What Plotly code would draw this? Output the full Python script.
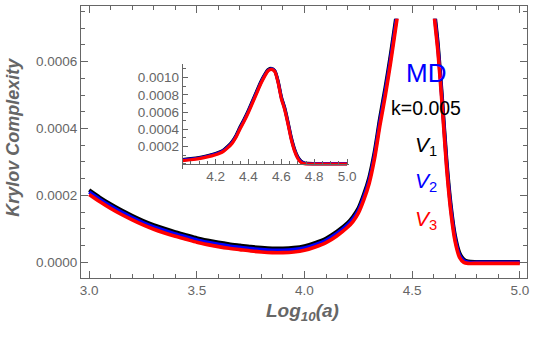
import plotly.graph_objects as go

# ---------------- data (values in units of 1e-4) ----------------
LOG_A = [3.00, 3.05, 3.10, 3.15, 3.20, 3.25, 3.30, 3.35, 3.40, 3.45,
         3.50, 3.55, 3.60, 3.65, 3.70, 3.75, 3.80, 3.85, 3.90, 3.95,
         4.00, 4.05, 4.10, 4.15, 4.20, 4.225, 4.25, 4.275, 4.30, 4.325,
         4.35, 4.375, 4.40, 4.425, 4.45, 4.475, 4.50, 4.52, 4.54, 4.56,
         4.58, 4.60, 4.62, 4.64, 4.66, 4.68, 4.70, 4.72, 4.74, 4.76,
         4.80, 4.90, 5.00]
V1 = [2.16, 1.94, 1.74, 1.56, 1.40, 1.25, 1.12, 1.01, 0.91, 0.82,
      0.73, 0.66, 0.60, 0.55, 0.51, 0.47, 0.44, 0.42, 0.42, 0.44,
      0.49, 0.59, 0.72, 0.92, 1.18, 1.37, 1.62, 2.03, 2.54, 3.30,
      4.31, 5.22, 6.22, 7.32, 8.42, 9.51, 10.40, 10.92, 11.05, 10.80,
      9.60, 7.76, 6.52, 4.87, 3.07, 1.71, 0.79, 0.29, 0.09, 0.03,
      0.02, 0.02, 0.02]
V2 = [2.10, 1.88, 1.68, 1.50, 1.34, 1.19, 1.06, 0.95, 0.85, 0.76,
      0.67, 0.60, 0.54, 0.49, 0.45, 0.41, 0.38, 0.36, 0.36, 0.38,
      0.43, 0.53, 0.66, 0.86, 1.12, 1.30, 1.55, 1.95, 2.45, 3.20,
      4.20, 5.10, 6.10, 7.20, 8.30, 9.40, 10.30, 10.85, 11.00, 10.75,
      9.50, 7.65, 6.40, 4.75, 2.95, 1.60, 0.70, 0.22, 0.05, 0.00,
      0.00, 0.00, 0.00]
V3 = [2.03, 1.81, 1.61, 1.43, 1.27, 1.12, 0.99, 0.88, 0.78, 0.69,
      0.60, 0.53, 0.47, 0.42, 0.38, 0.34, 0.31, 0.29, 0.29, 0.31,
      0.36, 0.46, 0.59, 0.79, 1.05, 1.22, 1.47, 1.86, 2.35, 3.09,
      4.08, 4.97, 5.97, 7.07, 8.17, 9.28, 10.20, 10.78, 10.95, 10.70,
      9.40, 7.54, 6.28, 4.63, 2.83, 1.49, 0.61, 0.15, 0.00, -0.03,
      -0.03, -0.03, -0.03]
SCALE = 1e-4
SERIES = [("V1", V1, "#000000"), ("V2", V2, "#0000ff"), ("V3", V3, "#ff0000")]

X_TICKS = [3.0, 3.5, 4.0, 4.5, 5.0]
Y_TICKS = [0.0, 0.0002, 0.0004, 0.0006]
INSET_X_TICKS = [4.2, 4.4, 4.6, 4.8, 5.0]
INSET_Y_TICKS = [0.0002, 0.0004, 0.0006, 0.0008, 0.0010]

# ---------------- layout geometry ----------------
W, H = 540, 363
L, R, T, B = 81, 6, 5, 85
PW, PH = W - L - R, H - T - B
XR = [2.962, 5.0334]
YR = [-0.0000467, 0.000766]
YCLIP = 0.000728  # plot range of main curves (clipped)
clip_frac = (YCLIP - YR[0]) / (YR[1] - YR[0])

def px_x(p):
    return (p - L) / PW

def px_y(p):
    return (H - B - p) / PH

GREY = "#666666"
FONT = "Liberation Sans, Arial, sans-serif"

fig = go.Figure()

ys = {}
for name, vals, col in SERIES:
    yv = [v * SCALE for v in vals]
    ys[name] = yv
    fig.add_trace(go.Scatter(x=LOG_A, y=yv, mode="lines", name=name,
                             line=dict(color=col, width=3.6, shape="spline", smoothing=0.7),
                             xaxis="x", yaxis="y", showlegend=False, hoverinfo="skip"))
# inset
for name, vals, col in SERIES:
    fig.add_trace(go.Scatter(x=LOG_A, y=ys[name], mode="lines",
                             line=dict(color=col, width=3.2, shape="spline", smoothing=0.7),
                             xaxis="x3", yaxis="y3", showlegend=False, hoverinfo="skip"))
# dummy for frame subplot
fig.add_trace(go.Scatter(x=[None], y=[None], xaxis="x2", yaxis="y2", showlegend=False))

tickfont = dict(family=FONT, size=13.5, color=GREY)

# inset geometry
IX0, IX1 = 184.3, 353.0
IY0, IY1 = 169.0, 63.0
IXR = [4.0, 4.0 + (IX1 - IX0) / 167.0]
IYR = [-(IY0 - 163.3) / 86.5 * 0.001, (163.3 - IY1) / 86.5 * 0.001]
iy_dom = [px_y(IY0), px_y(IY1)]
ix_dom = [px_x(IX0), px_x(IX1)]
zero_pos = iy_dom[0] + (0 - IYR[0]) / (IYR[1] - IYR[0]) * (iy_dom[1] - iy_dom[0])

fig.update_layout(
    width=W, height=H, margin=dict(l=L, r=R, t=T, b=B),
    paper_bgcolor="white", plot_bgcolor="rgba(0,0,0,0)",
    xaxis=dict(domain=[0, 1], range=XR, visible=False, anchor="y"),
    yaxis=dict(domain=[0, clip_frac], range=[YR[0], YCLIP], visible=False, anchor="x"),
    xaxis2=dict(domain=[0, 1], range=XR, anchor="y2", showline=True, mirror="allticks",
                linecolor=GREY, linewidth=1.2, ticks="inside", ticklen=7, tickwidth=1,
                tickcolor=GREY, tickvals=X_TICKS, ticktext=[f"{v:.1f}" for v in X_TICKS],
                tickfont=tickfont, showgrid=False, zeroline=False,
                minor=dict(ticks="inside", ticklen=4, dtick=0.1, tick0=3.0, tickcolor=GREY, showgrid=False)),
    yaxis2=dict(domain=[0, 1], range=YR, anchor="x2", showline=True, mirror="allticks",
                linecolor=GREY, linewidth=1.2, ticks="inside", ticklen=7, tickwidth=1,
                tickcolor=GREY, tickvals=Y_TICKS, ticktext=[f"{v:.4f}" for v in Y_TICKS],
                tickfont=tickfont, showgrid=False, zeroline=False,
                minor=dict(ticks="inside", ticklen=4, dtick=0.00005, tick0=0, tickcolor=GREY, showgrid=False)),
    xaxis3=dict(domain=ix_dom, range=IXR, anchor="free", position=zero_pos, showline=True,
                linecolor=GREY, linewidth=1, ticks="inside", ticklen=5, tickcolor=GREY,
                tickvals=INSET_X_TICKS, ticktext=[f"{v:.1f}" for v in INSET_X_TICKS],
                tickfont=tickfont, showgrid=False, zeroline=False,
                minor=dict(ticks="inside", ticklen=3, dtick=0.05, tick0=4.0, tickcolor=GREY, showgrid=False)),
    yaxis3=dict(domain=iy_dom, range=IYR, anchor="x3", showline=True,
                linecolor=GREY, linewidth=1, ticks="inside", ticklen=5, tickcolor=GREY,
                tickvals=INSET_Y_TICKS, ticktext=[f"{v:.4f}" for v in INSET_Y_TICKS],
                tickfont=tickfont, showgrid=False, zeroline=False,
                minor=dict(ticks="inside", ticklen=3, dtick=0.0001, tick0=0, tickcolor=GREY, showgrid=False)),
)

ann = [
    dict(text="<b><i>Krylov Complexity</i></b>", x=px_x(12.5), y=px_y(136.7), textangle=-90,
         font=dict(family=FONT, size=18, color=GREY)),
    dict(text="<b><i>Log<sub>10</sub>(a)</i></b>", x=px_x(306), y=px_y(312),
         font=dict(family=FONT, size=19, color=GREY)),
    dict(text="MD", x=px_x(431), y=px_y(72.5), font=dict(family=FONT, size=26, color="#0000ff")),
    dict(text="k=0.005", x=px_x(431.5), y=px_y(107.5), font=dict(family=FONT, size=19.5, color="#000000")),
    dict(text="<i>V</i><sub>1</sub>", x=px_x(431), y=px_y(146), font=dict(family=FONT, size=21, color="#000000")),
    dict(text="<i>V</i><sub>2</sub>", x=px_x(431), y=px_y(182), font=dict(family=FONT, size=21, color="#0000ff")),
    dict(text="<i>V</i><sub>3</sub>", x=px_x(431), y=px_y(220), font=dict(family=FONT, size=21, color="#ff0000")),
]
for a in ann:
    a.update(xref="paper", yref="paper", showarrow=False, xanchor="center", yanchor="middle")
fig.update_layout(annotations=ann)

fig.write_html("out.html", config={"displayModeBar": False},
               post_script="document.body.style.margin='0';document.body.style.padding='0';")
